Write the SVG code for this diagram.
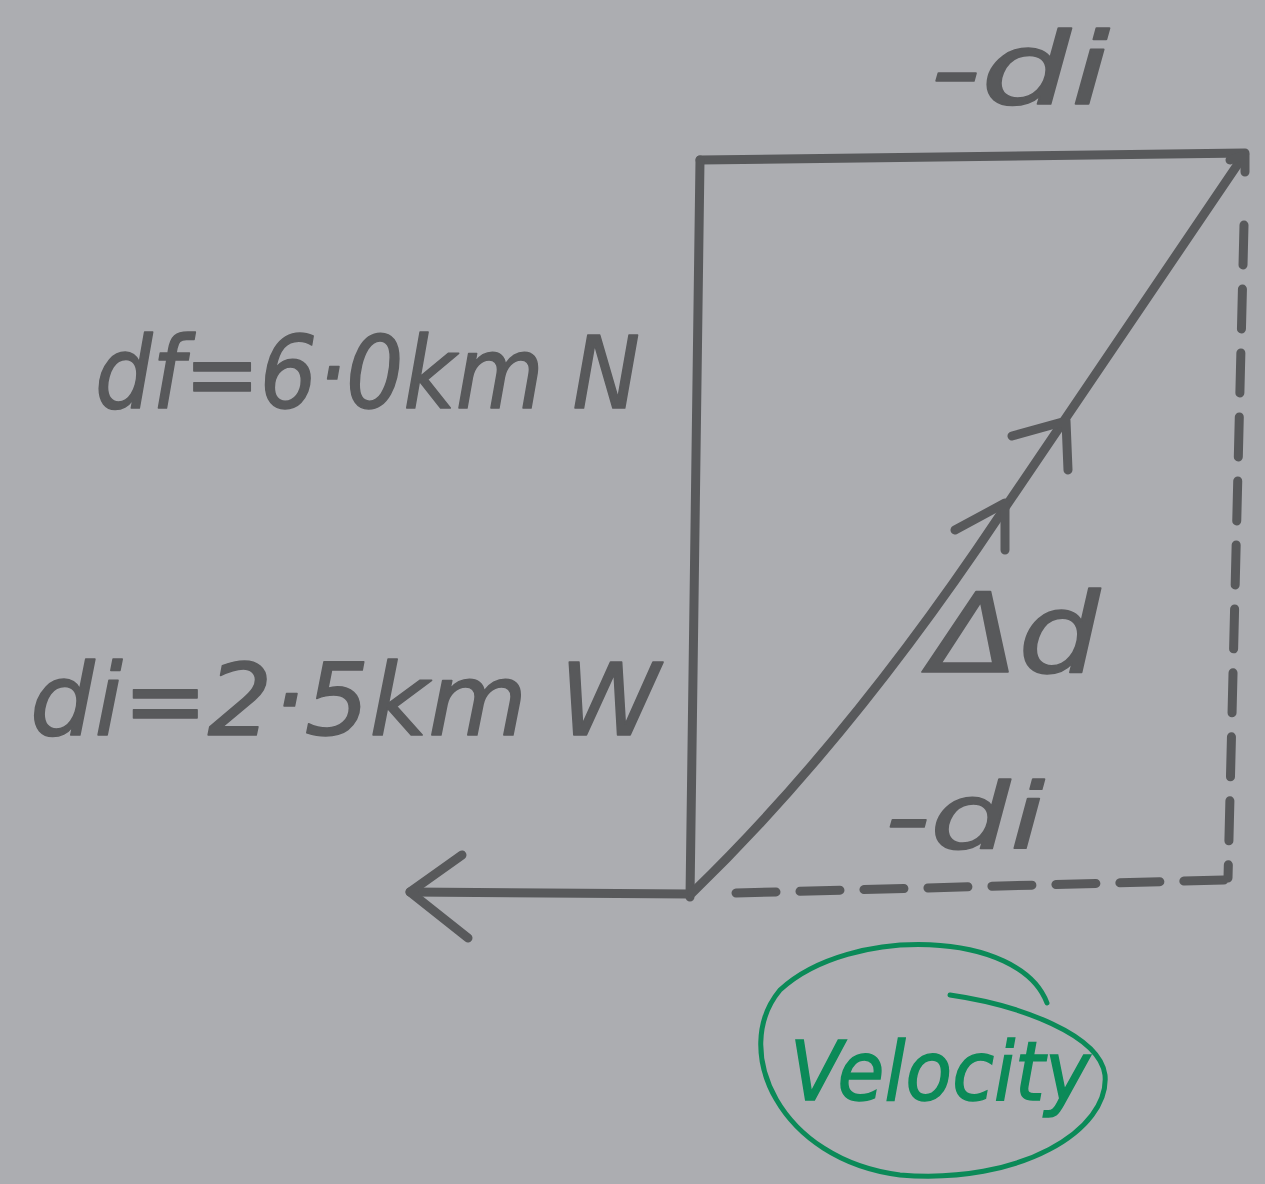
<svg xmlns="http://www.w3.org/2000/svg" width="1265" height="1184" viewBox="0 0 1265 1184">
<style>
.ln{fill:none;stroke:#58595b;stroke-width:9;stroke-linecap:round;stroke-linejoin:round}
.ds{fill:none;stroke:#58595b;stroke-width:9;stroke-linecap:round;stroke-dasharray:40 24}
.hw{font-family:"DejaVu Sans","Liberation Sans",sans-serif;font-style:italic;fill:#58595b;stroke:#58595b;stroke-width:1.5;stroke-linejoin:round}
.gr{fill:none;stroke:#0b8a58;stroke-width:5;stroke-linecap:round}
.gt{font-family:"DejaVu Sans","Liberation Sans",sans-serif;font-style:italic;fill:#0b8a58;stroke:#0b8a58;stroke-width:1.5}
</style>
<rect width="1265" height="1184" fill="#acadb1"/>
<g id="connectors">
<path class="ln" d="M700,160 L1245,153"/>
<path class="ln" d="M700,160 L690,897"/>
<path class="ln" d="M690,894 L410,892"/>
<path class="ln" d="M462,855 L410,892 L468,938"/>
<path class="ln" d="M692,893 Q850,740 1000,515 L1242,158"/>
<path class="ln" d="M955,530 L1005,503 L1005,550"/>
<path class="ln" d="M1012,436 L1066,421 L1068,470"/>
<path class="ln" d="M1230,160 L1245,155 L1245,172"/>
<path class="ds" d="M1244,225 L1228,878"/>
<path class="ds" d="M736,893 L1225,880"/>
</g>
<g id="label-di-top"><text class="hw" x="930" y="104" font-size="100" textLength="180" lengthAdjust="spacingAndGlyphs">-di</text></g>
<g id="label-df"><text class="hw" x="95" y="408" font-size="100" textLength="545" lengthAdjust="spacingAndGlyphs">df=6·0km N</text></g>
<g id="label-di"><text class="hw" x="30" y="735" font-size="100" textLength="630" lengthAdjust="spacingAndGlyphs">di=2·5km W</text></g>
<g id="label-delta"><text class="hw" x="930" y="672" font-size="110" textLength="170" lengthAdjust="spacingAndGlyphs">Δd</text></g>
<g id="label-di-low"><text class="hw" x="885" y="848" font-size="90" textLength="160" lengthAdjust="spacingAndGlyphs">-di</text></g>
<g id="velocity">
<path class="gr" d="M1047,1003 C1020,930 850,925 780,990 C730,1050 780,1160 900,1175 C1020,1185 1110,1130 1105,1075 C1100,1035 1020,1005 950,995"/>
<text class="gt" x="790" y="1100" font-size="82" textLength="300" lengthAdjust="spacingAndGlyphs">Velocity</text>
</g>
</svg>
